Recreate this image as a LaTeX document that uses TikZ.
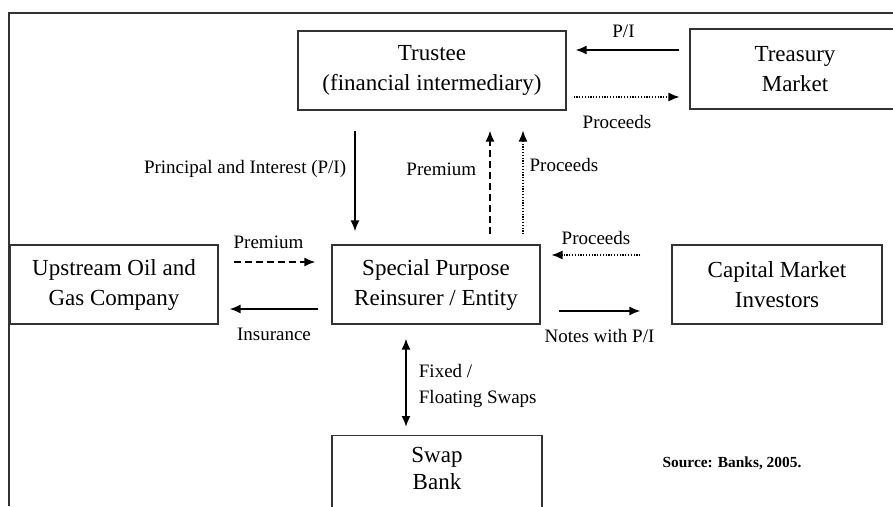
\documentclass[tikz,border=0pt]{standalone}
\usepackage{fontspec}
\setmainfont{Liberation Serif}
\usetikzlibrary{calc,arrows.meta}

\begin{document}
\begin{tikzpicture}[x=1pt, y=-1pt,
        box/.style={draw=black!80, line width=1.1pt, minimum width=208pt, minimum height=79pt, align=center, font=\fontsize{23}{30}\selectfont},
        lbl/.style={font=\fontsize{19}{26}\selectfont, inner sep=0pt, text height=13pt, text depth=3pt},
        flow/.style={line width=1.8pt},
        dashflow/.style={line width=1.8pt, dash pattern=on 7pt off 4pt},
        dotflow/.style={line width=1.3pt, dash pattern=on 1.3pt off 1.5pt},
        >={Latex[length=11pt,width=9pt]}]
        \useasboundingbox (0,0) rectangle (893,506);
        \clip (0,0) rectangle (893,506);

        \draw[black!80, line width=1.4pt] (893,13) -- (9,13) -- (9,506);

        \node (trustee) [box, minimum width=268pt] at (432,70.5) {Trustee\\(financial intermediary)};
        \node (treasury) [box, minimum width=210pt, minimum height=80pt] at (795,69) {Treasury\\Market};
        \node (upstream) [box] at (114,284.5) {Upstream Oil and\\Gas Company};
        \node (spe) [box] at (436,284.5) {Special Purpose\\Reinsurer / Entity};
        \node (capital) [box, minimum width=210pt] at (777,284.5) {Capital Market\\Investors};
        \node (swap) [box, minimum width=210pt, minimum height=0pt, anchor=north, inner ysep=12pt, text depth=40pt, font=\fontsize{23}{27}\selectfont] at (437,435) {Swap\\Bank};

        \draw[->, flow] ($(treasury.west)+(-10,-19)$) -- node[lbl, above=8.7pt, xshift=-4pt]{P/I} ($(trustee.east)+(9,-20.5)$);
        \draw[->, dotflow] ($(trustee.east)+(7,26.5)$) -- node[lbl, below=17.8pt, xshift=-9.5pt]{Proceeds} ($(treasury.west)+(-10,28)$);

        \draw[->, flow] ($(trustee.south)+(-77,20)$) -- node[lbl, left=8pt, pos=0.38]{Principal and Interest (P/I)} ($(spe.north)+(-81,-13)$);
        \draw[->, dashflow] ($(spe.north)+(54,-10)$) -- node[lbl, left=13pt, pos=0.62]{Premium} ($(trustee.south)+(58,20)$);
        \draw[->, dotflow] ($(spe.north)+(87,-10)$) -- node[lbl, right=6pt, pos=0.65]{Proceeds} ($(trustee.south)+(91,20)$);

        \draw[->, dotflow] ($(capital.west)+(-31,-29.5)$) -- node[lbl, above=6.7pt]{Proceeds} ($(spe.east)+(11,-29.5)$);
        \draw[->, flow] ($(spe.east)+(18,26.5)$) -- node[lbl, below=17.8pt]{Notes with P/I} ($(capital.west)+(-31,26.5)$);

        \draw[->, dashflow] ($(upstream.east)+(15,-22.5)$) -- node[lbl, above=9.7pt, xshift=-6pt]{Premium} ($(spe.west)+(-16,-22.5)$);
        \draw[->, flow] ($(spe.west)+(-13,24.5)$) -- node[lbl, below=17.8pt]{Insurance} ($(upstream.east)+(11,24.5)$);

        \draw[<->, flow] ($(spe.south)+(-30,14)$) -- node[right=12pt, yshift=-3.5pt, inner sep=0pt, align=left, font=\fontsize{19}{26}\selectfont]{Fixed /\\Floating Swaps} ($(swap.north)+(-31,-8)$);

        \node (source) [font=\fontsize{15.4}{18}\selectfont\bfseries] at (732,463) {Source: Banks, 2005.};
    \end{tikzpicture}
\end{document}
